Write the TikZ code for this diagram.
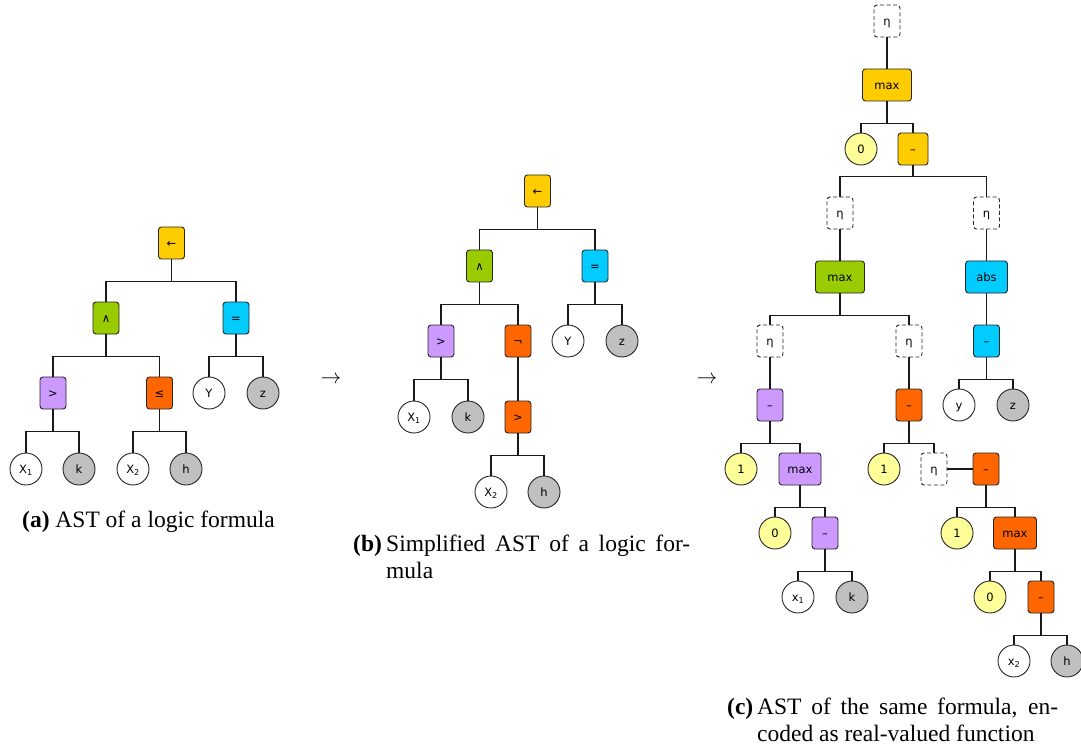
\documentclass[tikz,border=0pt]{standalone}
\usepackage{fontspec}
\newfontfamily\nodefont{DejaVu Sans}
\newfontfamily\captfont{Liberation Serif}
\definecolor{cgold}{HTML}{FFCC00}
\definecolor{cgreen}{HTML}{99CC00}
\definecolor{ccyan}{HTML}{00CCFF}
\definecolor{cpurple}{HTML}{CC99FF}
\definecolor{corange}{HTML}{FF6600}
\definecolor{cyell}{HTML}{FFFF99}
\definecolor{cgray}{HTML}{C0C0C0}
\tikzset{
  nd/.style={draw=black!85, line width=0.9pt, font=\nodefont\fontsize{11.5}{13}\selectfont, inner sep=0pt, text height=8.4pt, text depth=0pt},
  opbox/.style={nd, rectangle, rounded corners=3pt, minimum width=26pt, minimum height=32pt, fill=#1},
  etabox/.style={nd, rectangle, rounded corners=3pt, minimum width=26pt, minimum height=32pt, fill=white, dash pattern=on 4pt off 2.5pt},
  leaf/.style={nd, circle, minimum size=32pt, fill=#1},
  leaf/.default=white,
  tc/.style={to path={(\tikztostart.south) -- ++(0,#1) -| (\tikztotarget.north)}},
  tc/.default=22,
  conn/.style={draw=black!90, line width=1.1pt},
  capt/.style={anchor=base west, inner sep=0pt, font=\captfont\fontsize{23.5}{27}\selectfont},
}
\begin{document}
\begin{tikzpicture}[x=1pt,y=-1pt]
\useasboundingbox (0,0) rectangle (1081,751);
% ---------- panel (a)
\node[opbox=cgold] (a0) at (171.5,243) {←};
\node[opbox=cgreen] (a1) at (106,318) {∧};
\node[opbox=ccyan] (a2) at (236,318) {=};
\node[opbox=cpurple] (a3) at (53,393) {>};
\node[opbox=corange] (a4) at (159.5,393) {≤};
\node[leaf] (a5) at (209,393) {Y};
\node[leaf=cgray] (a6) at (263,393) {z};
\node[leaf] (a7) at (26,469) {X\textsubscript{1}};
\node[leaf=cgray] (a8) at (79,469) {k};
\node[leaf] (a9) at (133,469) {X\textsubscript{2}};
\node[leaf=cgray] (a10) at (186,469) {h};
\draw[conn] (a0) to[tc] (a1) (a0) to[tc] (a2)
  (a1) to[tc] (a3) (a1) to[tc] (a4)
  (a2) to[tc] (a5) (a2) to[tc] (a6)
  (a3) to[tc] (a7) (a3) to[tc] (a8)
  (a4) to[tc] (a9) (a4) to[tc] (a10);
% ---------- panel (b)
\node[opbox=cgold] (b0) at (537.5,191) {←};
\node[opbox=cgreen] (b1) at (479.5,266) {∧};
\node[opbox=ccyan] (b2) at (595,266) {=};
\node[opbox=cpurple] (b3) at (441,341) {>};
\node[opbox=corange] (b4) at (518,341) {¬};
\node[leaf] (b5) at (568,341) {Y};
\node[leaf=cgray] (b6) at (622,341) {z};
\node[leaf] (b7) at (414,417) {X\textsubscript{1}};
\node[leaf=cgray] (b8) at (468,417) {k};
\node[opbox=corange] (b9) at (518,417) {>};
\node[leaf] (b10) at (491,492) {X\textsubscript{2}};
\node[leaf=cgray] (b11) at (544,492) {h};
\draw[conn] (b0) to[tc] (b1) (b0) to[tc] (b2)
  (b1) to[tc] (b3) (b1) to[tc] (b4)
  (b2) to[tc] (b5) (b2) to[tc] (b6)
  (b3) to[tc] (b7) (b3) to[tc] (b8)
  (b4) to[tc] (b9)
  (b9) to[tc] (b10) (b9) to[tc] (b11);
% ---------- panel (c)
\node[etabox] (c0) at (887,21) {η};
\node[opbox=cgold, minimum width=49pt] (c1) at (887,85) {max};
\node[leaf=cyell] (c2) at (861,149) {0};
\node[opbox=cgold, minimum width=30pt] (c3) at (913,149) {–};
\node[etabox] (c4) at (840,213) {η};
\node[etabox] (c5) at (986.5,213) {η};
\node[opbox=cgreen, minimum width=49pt] (c6) at (840,277) {max};
\node[opbox=ccyan, minimum width=42pt] (c7) at (986.5,277) {abs};
\node[etabox] (c8) at (770,341) {η};
\node[etabox] (c9) at (909,341) {η};
\node[opbox=ccyan] (c10) at (986.5,341) {–};
\node[opbox=cpurple] (c11) at (770,405) {–};
\node[opbox=corange] (c12) at (909,405) {–};
\node[leaf] (c13) at (959,405) {y};
\node[leaf=cgray] (c14) at (1013,405) {z};
\node[leaf=cyell] (c15) at (741,469) {1};
\node[opbox=cpurple, minimum width=42pt] (c16) at (800,469) {max};
\node[leaf=cyell] (c17) at (884,469) {1};
\node[etabox] (c18) at (934,469) {η};
\node[opbox=corange] (c19) at (986,469) {–};
\node[leaf=cyell] (c20) at (775,533) {0};
\node[opbox=cpurple] (c21) at (825,533) {–};
\node[leaf=cyell] (c22) at (957,533) {1};
\node[opbox=corange, minimum width=43pt] (c23) at (1015,533) {max};
\node[leaf] (c24) at (798,597) {x\textsubscript{1}};
\node[leaf=cgray] (c25) at (852,597) {k};
\node[leaf=cyell] (c26) at (990,597) {0};
\node[opbox=corange] (c27) at (1041,597) {–};
\node[leaf] (c28) at (1014,661) {x\textsubscript{2}};
\node[leaf=cgray] (c29) at (1067,661) {h};
\draw[conn] (c0) to[tc] (c1)
  (c1) to[tc] (c2) (c1) to[tc] (c3)
  (c3) to[tc=11] (c4) (c3) to[tc=11] (c5)
  (c4) to[tc] (c6) (c5) to[tc] (c7)
  (c6) to[tc] (c8) (c6) to[tc] (c9)
  (c7) to[tc] (c10)
  (c8) to[tc] (c11) (c9) to[tc] (c12)
  (c10) to[tc] (c13) (c10) to[tc] (c14)
  (c11) to[tc] (c15) (c11) to[tc] (c16)
  (c12) to[tc] (c17) (c12) to[tc] (c18)
  (c18.east) -- (c19.west)
  (c16) to[tc] (c20) (c16) to[tc] (c21)
  (c19) to[tc] (c22) (c19) to[tc] (c23)
  (c21) to[tc] (c24) (c21) to[tc] (c25)
  (c23) to[tc] (c26) (c23) to[tc] (c27)
  (c27) to[tc] (c28) (c27) to[tc] (c29);
% ---------- arrows between panels
\node[font=\fontsize{21.4}{27}\selectfont, inner sep=0pt] (arr1) at (331,380) {$\rightarrow$};
\node[font=\fontsize{21.4}{27}\selectfont, inner sep=0pt] (arr2) at (707,380) {$\rightarrow$};
% ---------- captions
\node[capt] (capa) at (22,527) {\textbf{(a)} AST of a logic formula};
\node[capt] (capb) at (353,551) {\begin{tabular}[t]{@{}p{33pt}@{}l@{}}\textbf{(b)} & \makebox[304pt][s]{Simplified AST of a logic for-}\\ & mula\end{tabular}};
\node[capt] (capc) at (727,714) {\begin{tabular}[t]{@{}p{30pt}@{}l@{}}\textbf{(c)} & \makebox[301pt][s]{AST of the same formula, en-}\\ & coded as real-valued function\end{tabular}};
\end{tikzpicture}
\end{document}
